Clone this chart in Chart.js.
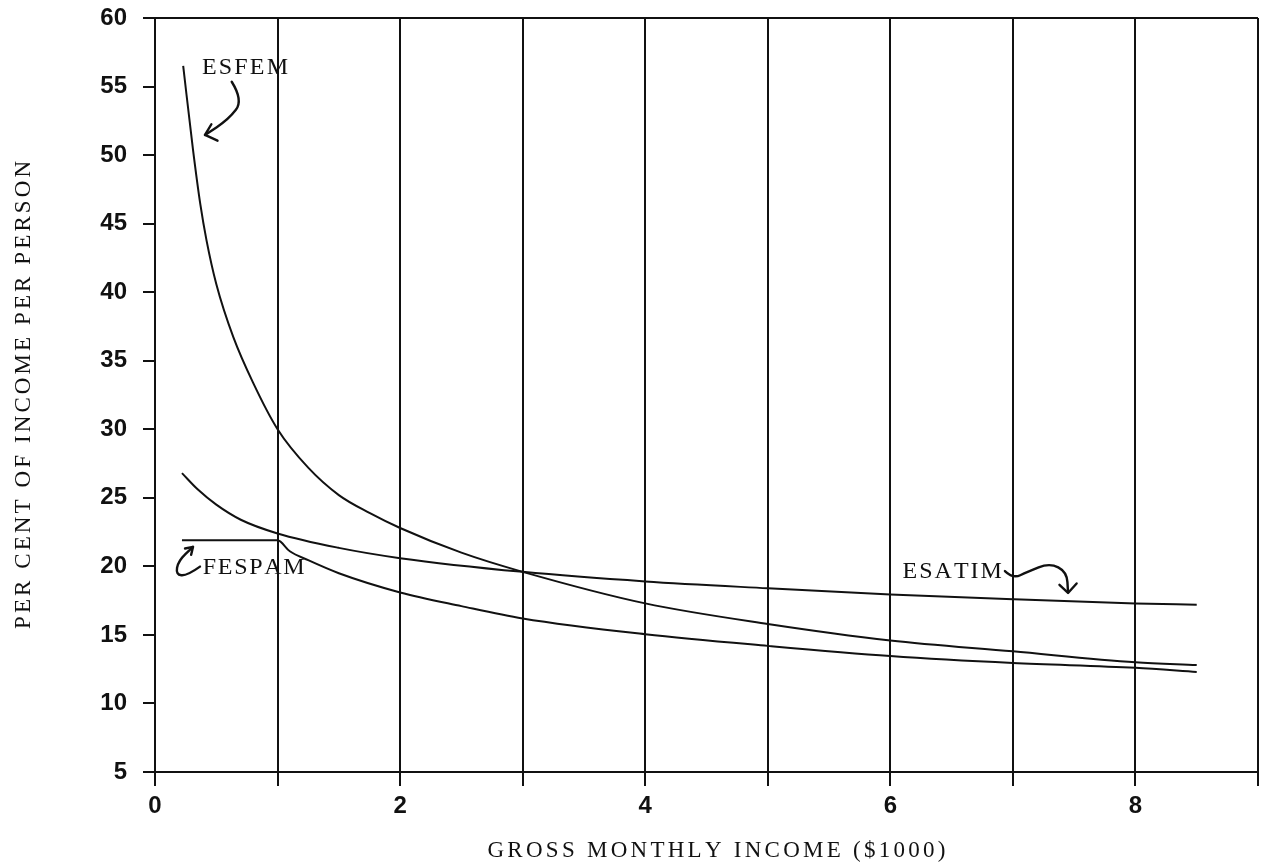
<!DOCTYPE html>
<html>
<head>
<meta charset="utf-8">
<script src="https://cdn.jsdelivr.net/npm/chart.js@4.4.1/dist/chart.umd.min.js"></script>
<style>
html,body{margin:0;padding:0;background:#fff;}
#wrap{width:1261px;height:862px;}
</style>
</head>
<body>
<div id="wrap"><canvas id="c" width="1261" height="862"></canvas></div>
<script>
// ---- data ----
const esfemX = [0.23, 0.31, 0.37, 0.42, 0.50, 0.64, 0.80, 1.00, 1.25, 1.50, 1.75, 2.00, 2.50, 3.00, 4.00, 5.00, 6.00, 7.00, 8.00, 8.50];
const esfemY = [56.5, 50.4, 46.4, 43.8, 40.6, 36.7, 33.4, 30.0, 27.2, 25.2, 23.9, 22.8, 21.0, 19.6, 17.3, 15.8, 14.6, 13.8, 13.0, 12.8];

const esatimX = [0.22, 0.35, 0.50, 0.70, 1.00, 1.50, 2.00, 3.00, 4.00, 5.00, 6.00, 7.00, 8.00, 8.50];
const esatimY = [26.8, 25.6, 24.5, 23.4, 22.4, 21.35, 20.6, 19.6, 18.9, 18.4, 17.95, 17.6, 17.3, 17.2];

const fespamX = [0.22, 1.00, 1.10, 1.25, 1.50, 2.00, 2.50, 3.00, 4.00, 5.00, 6.00, 7.00, 8.00, 8.50];
const fespamY = [21.9, 21.9, 21.1, 20.45, 19.5, 18.1, 17.1, 16.2, 15.05, 14.2, 13.46, 12.95, 12.6, 12.3];

const xTickLabels = ['0', '', '2', '', '4', '', '6', '', '8', ''];
const yTickValues = [5, 10, 15, 20, 25, 30, 35, 40, 45, 50, 55, 60];

const xTitle = 'GROSS MONTHLY INCOME ($1000)';
const yTitle = 'PER CENT OF INCOME PER PERSON';
const seriesNames = ['ESFEM', 'ESATIM', 'FESPAM'];

// ---- build ----
const toPts = (xs, ys) => xs.map((x, i) => ({x: x, y: ys[i]}));
const INK = '#111';
const serif = '"Liberation Serif", "Times New Roman", serif';

function spacedText(ctx, text, cx, cy, targetWidth) {
  const chars = Array.from(text);
  const widths = chars.map(ch => ctx.measureText(ch).width);
  const natural = widths.reduce((a, b) => a + b, 0);
  const sp = chars.length > 1 ? Math.max(0, (targetWidth - natural) / (chars.length - 1)) : 0;
  let x = cx - (natural + sp * (chars.length - 1)) / 2;
  ctx.textAlign = 'left';
  ctx.textBaseline = 'middle';
  chars.forEach((ch, i) => { ctx.fillText(ch, x, cy); x += widths[i] + sp; });
}

const decor = {
  id: 'decor',
  afterDraw(chart) {
    const ctx = chart.ctx;
    const xs = chart.scales.x, ys = chart.scales.y;
    const P = (x, y) => [xs.getPixelForValue(x), ys.getPixelForValue(y)];
    const ca = chart.chartArea;
    ctx.save();
    ctx.fillStyle = INK;
    ctx.strokeStyle = INK;

    // axis titles
    ctx.font = '23px ' + serif;
    spacedText(ctx, xTitle, (ca.left + ca.right) / 2 + 10, 851, 458);
    ctx.save();
    ctx.translate(24, 395);
    ctx.rotate(-Math.PI / 2);
    spacedText(ctx, yTitle, 0, 0, 468);
    ctx.restore();

    // series labels (placed in data coordinates)
    ctx.font = '24px ' + serif;
    const lab = (name, x0, x1, y) => {
      const a = P(x0, y), b = P(x1, y);
      spacedText(ctx, name, (a[0] + b[0]) / 2, a[1], b[0] - a[0]);
    };
    lab(seriesNames[0], 0.383, 1.085, 56.4);
    lab(seriesNames[1], 6.10, 6.91, 19.6);
    lab(seriesNames[2], 0.39, 1.22, 19.9);

    // hand-drawn arrows
    ctx.lineWidth = 2.4;
    ctx.lineCap = 'round';
    ctx.lineJoin = 'round';
    const path = (pts) => {
      ctx.beginPath();
      const p0 = P(pts[0][0], pts[0][1]);
      ctx.moveTo(p0[0], p0[1]);
      for (let i = 1; i < pts.length - 1; i++) {
        const c = P(pts[i][0], pts[i][1]);
        const n = P(pts[i + 1][0], pts[i + 1][1]);
        ctx.quadraticCurveTo(c[0], c[1], (c[0] + n[0]) / 2, (c[1] + n[1]) / 2);
      }
      const pl = P(pts[pts.length - 1][0], pts[pts.length - 1][1]);
      ctx.lineTo(pl[0], pl[1]);
      ctx.stroke();
    };
    const head = (tip, a1, a2) => {
      const t = P(tip[0], tip[1]), p1 = P(a1[0], a1[1]), p2 = P(a2[0], a2[1]);
      ctx.beginPath();
      ctx.moveTo(p1[0], p1[1]); ctx.lineTo(t[0], t[1]); ctx.lineTo(p2[0], p2[1]);
      ctx.stroke();
    };
    // ESFEM arrow
    path([[0.626, 55.35], [0.72, 54.0], [0.60, 52.6], [0.408, 51.47]]);
    head([0.408, 51.47], [0.46, 52.25], [0.51, 51.05]);
    // ESATIM arrow
    path([[6.935, 19.66], [7.0, 19.1], [7.12, 19.6], [7.30, 20.25], [7.44, 19.6], [7.45, 18.1]]);
    head([7.45, 18.06], [7.38, 18.65], [7.52, 18.75]);
    // FESPAM hook
    path([[0.367, 19.98], [0.26, 19.3], [0.17, 19.4], [0.19, 20.4], [0.31, 21.42]]);
    head([0.31, 21.42], [0.245, 21.3], [0.295, 20.85]);

    ctx.restore();
  }
};

const lineDs = (label, xs, ys) => ({
  label: label,
  data: toPts(xs, ys),
  showLine: true,
  borderColor: INK,
  backgroundColor: INK,
  borderWidth: 2,
  pointRadius: 0,
  cubicInterpolationMode: 'monotone',
  fill: false
});

const tickFont = {family: '"Liberation Sans", Arial, sans-serif', weight: 'bold', size: 24};

new Chart(document.getElementById('c'), {
  type: 'scatter',
  data: {
    datasets: [
      lineDs(seriesNames[0], esfemX, esfemY),
      lineDs(seriesNames[1], esatimX, esatimY),
      lineDs(seriesNames[2], fespamX, fespamY)
    ]
  },
  options: {
    responsive: false,
    animation: false,
    devicePixelRatio: 1,
    layout: {padding: {top: 18, right: 3, left: 0, bottom: 0}},
    plugins: {legend: {display: false}, tooltip: {enabled: false}, title: {display: false}},
    scales: {
      x: {
        type: 'linear', min: 0, max: 9,
        afterBuildTicks(s) { s.ticks = xTickLabels.map((_, i) => ({value: i})); },
        ticks: {
          autoSkip: false, maxRotation: 0, color: INK, font: tickFont, padding: 6,
          callback: (v) => xTickLabels[Math.round(v)]
        },
        grid: {color: INK, lineWidth: 2, tickLength: 14, drawOnChartArea: true},
        border: {color: INK, width: 2},
        afterFit(s) { s.height = 90; s.paddingLeft = 0; s.paddingRight = 0; }
      },
      y: {
        type: 'linear', min: 5, max: 60,
        afterBuildTicks(s) { s.ticks = yTickValues.map(v => ({value: v})); },
        ticks: {color: INK, font: tickFont, padding: 16},
        grid: {
          color: (c) => (c.tick && c.tick.value === 60) ? INK : 'rgba(0,0,0,0)',
          tickColor: INK, lineWidth: 2, tickLength: 12, drawOnChartArea: true
        },
        border: {color: INK, width: 2},
        afterFit(s) { s.width = 155; s.paddingTop = 0; s.paddingBottom = 0; }
      }
    }
  },
  plugins: [decor]
});
</script>
</body>
</html>
